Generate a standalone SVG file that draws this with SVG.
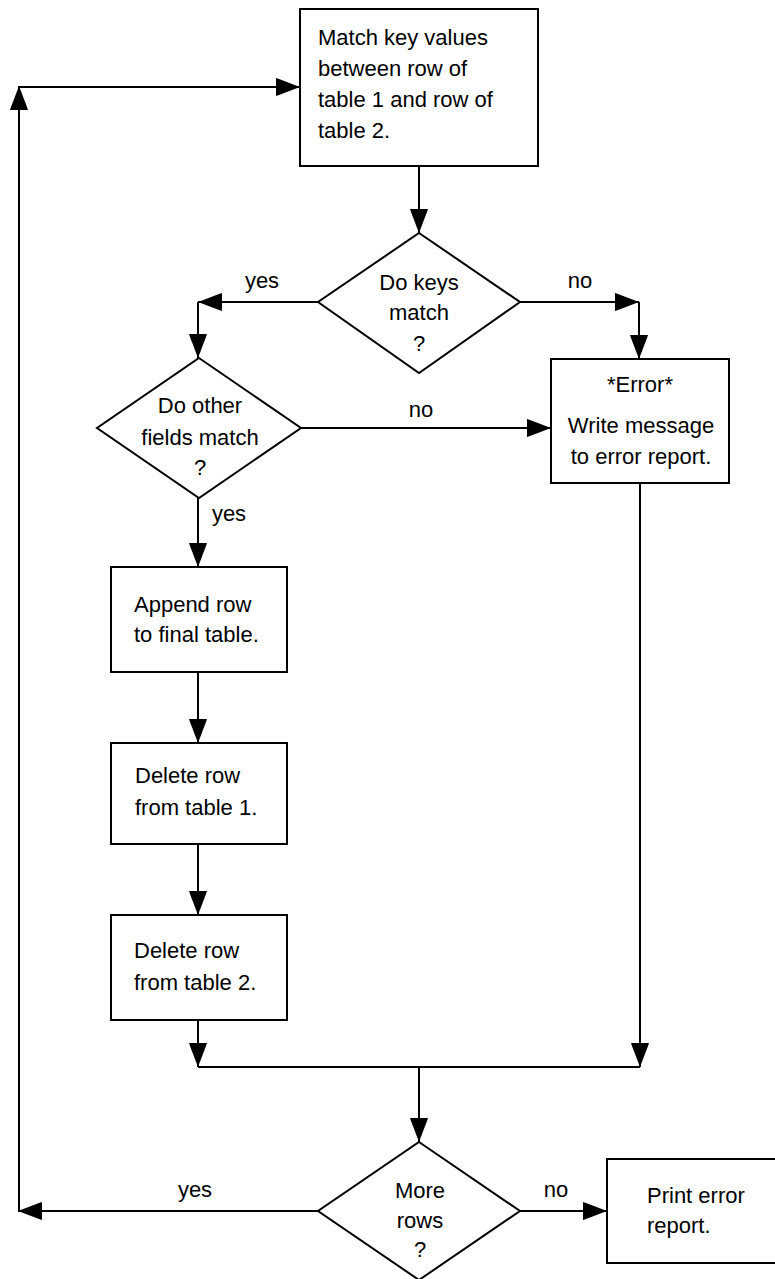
<svg xmlns="http://www.w3.org/2000/svg" width="775" height="1279" viewBox="0 0 775 1279">
<style>
.box{fill:#fff;stroke:#000;stroke-width:2}
.t{font-family:"Liberation Sans",Arial,sans-serif;font-size:22px;fill:#000}
.c{text-anchor:middle}
.ln{fill:none;stroke:#000;stroke-width:2}
</style>
<defs>
<marker id="ah" viewBox="0 -10 24 20" refX="24" refY="0" markerWidth="24" markerHeight="20" markerUnits="userSpaceOnUse" orient="auto">
<path d="M0,-9 L3,-8 L24,0 L3,8 L0,9 Z" fill="#000"/>
</marker>
</defs>
<rect width="775" height="1279" fill="#fff"/>
<g id="connectors">
<line class="ln" x1="419" y1="166" x2="419" y2="233" marker-end="url(#ah)"/>
<line class="ln" x1="318" y1="302" x2="198" y2="302" marker-end="url(#ah)"/>
<line class="ln" x1="198" y1="302" x2="198" y2="358" marker-end="url(#ah)"/>
<line class="ln" x1="520" y1="302" x2="639" y2="302" marker-end="url(#ah)"/>
<line class="ln" x1="639" y1="302" x2="639" y2="359" marker-end="url(#ah)"/>
<line class="ln" x1="301" y1="428" x2="551" y2="428" marker-end="url(#ah)"/>
<line class="ln" x1="198" y1="498" x2="198" y2="567" marker-end="url(#ah)"/>
<line class="ln" x1="198" y1="672" x2="198" y2="743" marker-end="url(#ah)"/>
<line class="ln" x1="198" y1="844" x2="198" y2="915" marker-end="url(#ah)"/>
<line class="ln" x1="198" y1="1020" x2="198" y2="1067" marker-end="url(#ah)"/>
<line class="ln" x1="640" y1="483" x2="640" y2="1067" marker-end="url(#ah)"/>
<line class="ln" x1="198" y1="1067" x2="640" y2="1067"/>
<line class="ln" x1="419" y1="1067" x2="419" y2="1142" marker-end="url(#ah)"/>
<line class="ln" x1="318" y1="1211" x2="18" y2="1211" marker-end="url(#ah)"/>
<line class="ln" x1="19" y1="1211" x2="19" y2="86" marker-end="url(#ah)"/>
<line class="ln" x1="19" y1="87" x2="300" y2="87" marker-end="url(#ah)"/>
<line class="ln" x1="520" y1="1211" x2="607" y2="1211" marker-end="url(#ah)"/>
<text class="t c" x="262" y="288">yes</text>
<text class="t c" x="580" y="288">no</text>
<text class="t c" x="421" y="417">no</text>
<text class="t c" x="229" y="521">yes</text>
<text class="t c" x="195" y="1197">yes</text>
<text class="t c" x="556" y="1197">no</text>
</g>
<g id="match">
<rect class="box" x="300" y="9" width="238" height="157"/>
<text class="t" x="318" y="45">Match key values</text>
<text class="t" x="318" y="76">between row of</text>
<text class="t" x="318" y="107">table 1 and row of</text>
<text class="t" x="318" y="138">table 2.</text>
</g>
<g id="keys">
<polygon class="box" points="419,233 520,302 419,373 318,302"/>
<text class="t c" x="419" y="290">Do keys</text>
<text class="t c" x="419" y="320">match</text>
<text class="t c" x="419" y="351">?</text>
</g>
<g id="fields">
<polygon class="box" points="199,358 301,428 199,498 97,428"/>
<text class="t c" x="200" y="413">Do other</text>
<text class="t c" x="200" y="445">fields match</text>
<text class="t c" x="200" y="475">?</text>
</g>
<g id="error">
<rect class="box" x="551" y="359" width="178" height="124"/>
<text class="t c" x="640" y="392">*Error*</text>
<text class="t c" x="641" y="433">Write message</text>
<text class="t c" x="641" y="464">to error report.</text>
</g>
<g id="append">
<rect class="box" x="111" y="567" width="176" height="105"/>
<text class="t" x="134" y="612">Append row</text>
<text class="t" x="134" y="642">to final table.</text>
</g>
<g id="delete1">
<rect class="box" x="111" y="743" width="176" height="101"/>
<text class="t" x="135" y="783">Delete row</text>
<text class="t" x="135" y="815">from table 1.</text>
</g>
<g id="delete2">
<rect class="box" x="111" y="915" width="176" height="105"/>
<text class="t" x="134" y="958">Delete row</text>
<text class="t" x="134" y="990">from table 2.</text>
</g>
<g id="more">
<polygon class="box" points="419,1142 520,1211 419,1280 318,1211"/>
<text class="t c" x="420" y="1198">More</text>
<text class="t c" x="420" y="1228">rows</text>
<text class="t c" x="420" y="1257">?</text>
</g>
<g id="print">
<rect class="box" x="607" y="1159" width="180" height="104"/>
<text class="t" x="647" y="1203">Print error</text>
<text class="t" x="647" y="1233">report.</text>
</g>
</svg>
